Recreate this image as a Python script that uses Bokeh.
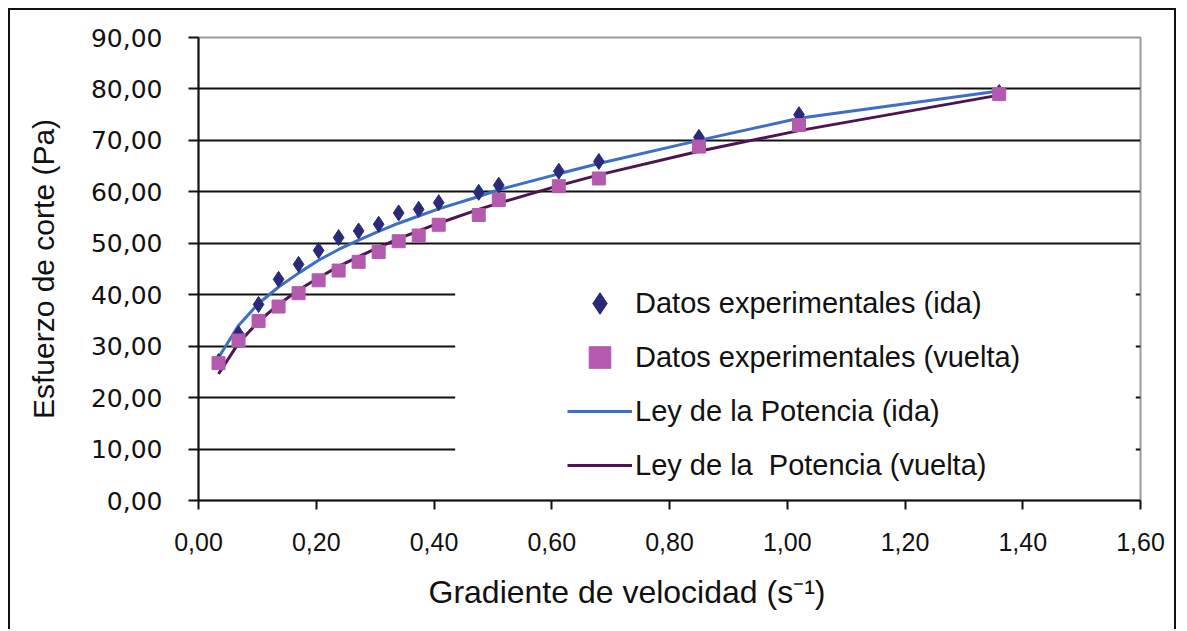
from bokeh.plotting import figure
from bokeh.models import (ColumnDataSource, Range1d, FixedTicker, CustomJSTickFormatter,
                          Legend, LegendItem, BoxAnnotation, Title)
from bokeh.embed import file_html
from bokeh.resources import INLINE

# ---- data ----
shear_rate = [0.034, 0.068, 0.102, 0.136, 0.170, 0.204, 0.238, 0.272, 0.306, 0.340,
              0.374, 0.408, 0.476, 0.510, 0.612, 0.680, 0.850, 1.020, 1.360]
stress_ida = [27.0, 32.4, 38.1, 43.0, 45.9, 48.6, 51.1, 52.4, 53.7, 55.9,
              56.6, 57.9, 59.9, 61.3, 64.0, 65.9, 70.6, 75.0, 79.3]
stress_vuelta = [26.7, 31.1, 34.9, 37.7, 40.3, 42.8, 44.7, 46.4, 48.3, 50.4,
                 51.5, 53.6, 55.5, 58.4, 61.1, 62.6, 68.8, 73.0, 79.0]
fit_ida = [27.8, 34.0, 38.3, 41.5, 44.2, 46.7, 48.8, 50.6, 52.3, 53.9,
           55.3, 56.7, 59.1, 60.4, 63.5, 65.5, 70.0, 74.3, 79.6]
fit_vuelta = [24.6, 30.6, 34.8, 38.1, 40.9, 43.3, 45.5, 47.4, 49.2, 50.9,
              52.4, 53.9, 56.6, 57.8, 61.2, 63.3, 67.9, 71.9, 78.8]

x_ticks = [0.0, 0.2, 0.4, 0.6, 0.8, 1.0, 1.2, 1.4, 1.6]
y_ticks = [0, 10, 20, 30, 40, 50, 60, 70, 80, 90]
grid_ticks = [10, 20, 30, 40, 50, 60, 70, 80]

legend_labels = ["Datos experimentales (ida)", "Datos experimentales (vuelta)",
                 "Ley de la Potencia (ida)", "Ley de la  Potencia (vuelta)"]
x_label = "Gradiente de velocidad (s\u207b\u00b9)"
y_label = "Esfuerzo de corte (Pa)"

src = ColumnDataSource(dict(x=shear_rate, ida=stress_ida, vuelta=stress_vuelta,
                            fi=fit_ida, fv=fit_vuelta))

FONT = "'Liberation Sans', Arial, sans-serif"
WIDE = "'DejaVu Sans', Verdana, sans-serif"

p = figure(width=1168, height=621, output_backend="svg", toolbar_location=None,
           x_range=Range1d(0, 1.6), y_range=Range1d(0, 90),
           min_border_left=188, min_border_right=38, min_border_top=27, min_border_bottom=131)
p.styles = {"margin-left": "8px", "margin-top": "8px",
            "border-top": "2px solid #111", "border-left": "2px solid #111",
            "border-right": "2px solid #111"}
p.background_fill_color = "white"
p.border_fill_color = "white"
p.outline_line_color = "#9a9a9a"
p.outline_line_width = 2

# grid
p.xgrid.visible = False
p.ygrid.ticker = FixedTicker(ticks=grid_ticks)
p.ygrid.grid_line_color = "#111111"
p.ygrid.grid_line_width = 2

# axes
fmt = CustomJSTickFormatter(code="return tick.toFixed(2).replace('.', ',');")
for ax, ticks in ((p.xaxis[0], x_ticks), (p.yaxis[0], y_ticks)):
    ax.ticker = FixedTicker(ticks=ticks)
    ax.formatter = fmt
    ax.axis_line_color = "#111111"
    ax.axis_line_width = 2
    ax.major_tick_line_color = "#111111"
    ax.major_tick_line_width = 2
    ax.major_tick_in = 0
    ax.minor_tick_line_color = None
    ax.major_label_text_color = "#111111"
    ax.axis_label_text_font = FONT
    ax.axis_label_text_font_style = "normal"
    ax.axis_label_text_color = "#111111"

p.xaxis.major_tick_out = 9
p.xaxis.major_label_standoff = 23
p.xaxis.major_label_text_font = FONT
p.xaxis.major_label_text_font_size = "25px"

p.yaxis.major_tick_out = 10
p.yaxis.major_label_standoff = 26
p.yaxis.major_label_text_font = WIDE
p.yaxis.major_label_text_font_size = "25px"
p.yaxis.axis_label = y_label
p.yaxis.axis_label_text_font_size = "30px"
p.yaxis.axis_label_standoff = 28

# x axis title, placed left of centre as in the reference
p.add_layout(Title(text=x_label, align="left", offset=230, vertical_align="top",
                   standoff=40, text_font=FONT, text_font_size="32px",
                   text_font_style="normal", text_color="#111111"), "below")

# legend background (white box hiding the grid lines, no border)
p.add_layout(BoxAnnotation(left=0.436, right=1.592, bottom=1.5, top=44.3,
                           fill_color="white", fill_alpha=1.0, line_color=None,
                           level="underlay"))

# series
r_fi = p.line("x", "fi", source=src, line_color="#3D6FC6", line_width=3)
r_fv = p.line("x", "fv", source=src, line_color="#4E1352", line_width=3)
r_ida = p.scatter("x", "ida", source=src, marker="diamond", size=16,
                  fill_color="#2B2A78", line_color="#2B2A78")
r_vue = p.scatter("x", "vuelta", source=src, marker="square", size=13,
                  fill_color="#B35AAE", line_color="#B35AAE")

legend = Legend(items=[LegendItem(label=legend_labels[0], renderers=[r_ida]),
                       LegendItem(label=legend_labels[1], renderers=[r_vue]),
                       LegendItem(label=legend_labels[2], renderers=[r_fi]),
                       LegendItem(label=legend_labels[3], renderers=[r_fv])],
                location=(369, 8), orientation="vertical")
legend.background_fill_alpha = 0
legend.border_line_color = None
legend.padding = 0
legend.margin = 0
legend.spacing = 0
legend.glyph_width = 65
legend.glyph_height = 54
legend.label_height = 54
legend.label_standoff = 3
legend.label_text_font = FONT
legend.label_text_font_size = "29px"
legend.label_text_color = "#111111"
p.add_layout(legend)

open("out.html", "w").write(file_html(p, INLINE))
